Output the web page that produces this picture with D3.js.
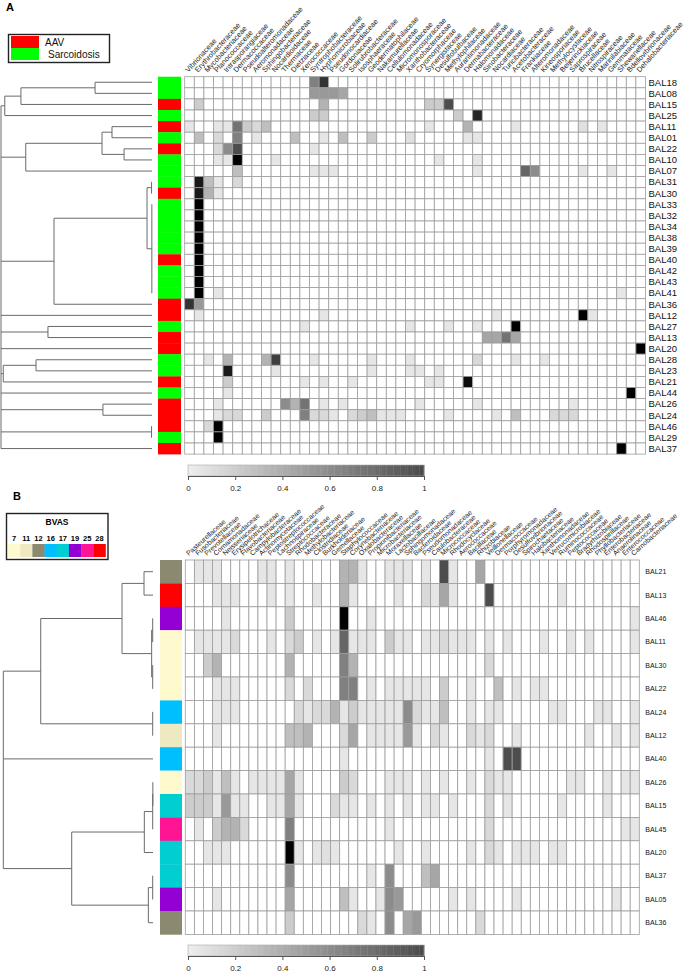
<!DOCTYPE html>
<html>
<head>
<meta charset="utf-8">
<script src="https://cdn.jsdelivr.net/npm/d3@7"></script>
<style>
body{margin:0;background:#fff;}
text{font-family:"Liberation Sans",Arial,sans-serif;}
</style>
</head>
<body>
<div id="plot"></div>
<script>
// ---------- panel A data ----------
var rowsA = ["BAL18","BAL08","BAL15","BAL25","BAL11","BAL01","BAL22","BAL10","BAL07","BAL31","BAL30","BAL33","BAL32","BAL34","BAL38","BAL39","BAL40","BAL42","BAL43","BAL41","BAL36","BAL12","BAL27","BAL13","BAL20","BAL28","BAL23","BAL21","BAL44","BAL26","BAL24","BAL46","BAL29","BAL37"];
var groupA = ["S","S","A","S","A","S","A","S","S","S","A","S","S","S","S","S","A","S","S","S","A","A","S","A","A","S","S","A","S","A","A","A","S","A"];
var legendA = ["AAV","Sarcoidosis"];
var legendKeysA = ["A","S"];
var legendColorsA = ["#FF0000","#00FF00"];
var colsA = ["Vibrionaceae","Erythrobacteraceae","Mycobacteriaceae","Planococcaceae","Intrasporangiaceae","Dermacoccaceae","Pseudoalteromonadaceae","Aeromonadaceae","Sphingobacteriaceae","Nocardioidaceae","Thermaceae","Dietziaceae","Xenococcaceae","Syntrophobacteraceae","Hyphomicrobiaceae","Pseudonocardiaceae","Gordoniaceae","Solirubrobacteraceae","Isosphaeraceae","Geodermatophilaceae","Nakamurellaceae","Cellulomonadaceae","Micromonosporaceae","Xanthobacteraceae","Cryomorphaceae","Synergistaceae","Desulfobulbaceae","Methylophilaceae","Aurantimonadaceae","Dermabacteraceae","Halomonadaceae","Sinobacteraceae","Nocardiaceae","Turicibacteraceae","Acetobacteraceae","Frankiaceae","Alteromonadaceae","Kineosporiaceae","Methylocystaceae","Beijerinckiaceae","Saprospiraceae","Brucellaceae","Nitrospiraceae","Marinilabiaceae","Gemmataceae","Shewanellaceae","Bdellovibrionaceae","Dehalobacteriaceae"];
// non-zero cells per row: [column index, value]
var cellsA = [
  [[13,.5],[14,.8]],
  [[13,.4],[14,.4],[15,.4],[16,.35]],
  [[1,.2],[14,.3],[25,.2],[26,.2],[27,.7]],
  [[13,.2],[14,.2],[28,.2],[30,.85]],
  [[0,.1],[3,.1],[4,.1],[5,.55],[6,.2],[7,.15],[8,.25],[25,.1],[29,.3],[34,.1],[41,.12],[43,.1]],
  [[1,.25],[3,.15],[5,.5],[7,.1],[11,.25],[14,.1],[16,.25],[19,.2],[23,.12],[29,.1],[30,.1]],
  [[3,.15],[4,.45],[5,.7],[13,.1]],
  [[3,.1],[4,.1],[5,1],[9,.1],[26,.1],[30,.1]],
  [[5,.25],[13,.1],[14,.1],[15,.1],[30,.1],[35,.6],[36,.45],[41,.1],[44,.1]],
  [[1,.9],[2,.25],[3,.1],[5,.15]],
  [[1,.9],[2,.3],[3,.1]],
  [[1,1]],
  [[1,1]],
  [[1,1]],
  [[1,1]],
  [[1,1]],
  [[1,1]],
  [[1,1]],
  [[1,1]],
  [[1,1],[3,.1],[45,.1]],
  [[0,.8],[1,.4]],
  [[1,.1],[14,.1],[32,.1],[41,1],[42,.1]],
  [[12,.1],[23,.1],[27,.1],[30,.1],[34,1]],
  [[31,.35],[32,.35],[33,.55],[34,.35]],
  [[47,1]],
  [[2,.1],[4,.3],[8,.3],[9,.75],[13,.1],[19,.1],[23,.1],[30,.15],[34,.1],[37,.1]],
  [[4,.9],[9,.1],[19,.1],[23,.1],[24,.1],[26,.1]],
  [[4,.2],[12,.1],[14,.1],[17,.1],[25,.1],[26,.1],[29,.95]],
  [[4,.1],[46,1]],
  [[3,.1],[10,.45],[11,.3],[12,.55],[14,.1],[16,.1],[24,.1],[30,.1],[40,.1]],
  [[3,.1],[4,.15],[5,.15],[8,.2],[12,.5],[13,.15],[14,.15],[15,.1],[17,.15],[18,.2],[19,.25],[20,.1],[21,.1],[22,.1],[27,.1],[32,.1],[34,.25],[38,.15],[39,.15],[40,.15]],
  [[2,.15],[3,1]],
  [[3,1]],
  [[45,1]]
];
// dendrogram: [height, children...], leaves are row names
var treeA = [1.0,
  [0.975, [0.868, [0.377,"BAL18","BAL08"], "BAL15"], "BAL25"],
  [0.836, [0.331, [0.265,"BAL11","BAL01"], [0.185,"BAL22","BAL10"]], "BAL07"],
  [0.649, [0.033, [0.003,"BAL31","BAL30"], [0.001,"BAL33","BAL32","BAL34","BAL38","BAL39","BAL40","BAL42","BAL43","BAL41"]], "BAL36"],
  "BAL12",
  [0.689,"BAL27","BAL13"],
  "BAL20",
  [0.985, [0.768,"BAL28","BAL23"], "BAL21"],
  "BAL44",
  [0.325,"BAL26","BAL24"],
  [0.003,"BAL46","BAL29"],
  "BAL37"];

// ---------- panel B data ----------
var rowsB = ["BAL21","BAL13","BAL46","BAL11","BAL30","BAL22","BAL24","BAL12","BAL40","BAL26","BAL15","BAL45","BAL20","BAL37","BAL05","BAL36"];
var bvasB = [12,28,19,7,7,7,16,11,16,7,17,25,17,17,19,12];
var bvasLevels = [7,11,12,16,17,19,25,28];
var bvasColors = ["#FFFACD","#EEE9BF","#8B8970","#00BFFF","#00CED1","#9400D3","#FF1493","#FF0000"];
var colsB = ["Pasteurellaceae","Fusobacteriaceae","Prevotellaceae","Comamonadaceae","Neisseriaceae","Erysipelotrichaceae","Flavobacteriaceae","Campylobacteraceae","Actinomycetaceae","Peptostreptococcaceae","Lachnospiraceae","Streptococcaceae","Rhodobacteraceae","Methylobacteriaceae","Clostridiaceae","Burkholderiaceae","Gemellaceae","Staphylococcaceae","Corynebacteriaceae","Oxalobacteraceae","Propionibacteriaceae","Microbacteriaceae","Moraxellaceae","Lactobacillaceae","Sphingomonadaceae","Bacteroidaceae","Pseudomonadaceae","Caulobacteraceae","Micrococcaceae","Rhodocyclaceae","Aerococcaceae","Bacillaceae","Rhizobiaceae","Veillonellaceae","Dermacoccaceae","Porphyromonadaceae","Desulfovibrionaceae","Spirochaetaceae","Halobacteriaceae","Xanthomonadaceae","Verrucomicrobiaceae","Ruminococcaceae","Peptococcaceae","Bradyrhizobiaceae","Rhodospirillaceae","Phyllobacteriaceae","Enterobacteriaceae","Anaerolinaceae","Enterococcaceae","Carnobacteriaceae"];
var cellsB = [
  [[1,.1],[2,.1],[3,.1],[8,.1],[9,.1],[11,.1],[17,.3],[18,.3],[19,.1],[22,.1],[23,.1],[24,.1],[26,.1],[28,.7],[29,.1],[32,.35]],
  [[3,.1],[4,.1],[5,.1],[9,.1],[11,.1],[14,.1],[17,.3],[18,.1],[23,.1],[26,.15],[27,.1],[28,.35],[29,.1],[33,.7],[41,.1]],
  [[4,.1],[11,.2],[17,1],[20,.1],[49,.1]],
  [[1,.1],[2,.1],[3,.1],[4,.1],[5,.15],[9,.1],[11,.15],[12,.2],[14,.1],[16,.1],[17,.6],[18,.1],[19,.1],[20,.1],[22,.2],[23,.1],[24,.1],[26,.1],[27,.1],[28,.15],[29,.1],[30,.1],[31,.1],[33,.1],[35,.1],[39,.1],[42,.1],[44,.1],[49,.1]],
  [[2,.2],[3,.3],[11,.3],[17,.5],[18,.3],[33,.15]],
  [[3,.1],[4,.1],[5,.1],[11,.15],[13,.15],[17,.5],[18,.5],[20,.1],[22,.1],[23,.1],[24,.1],[25,.1],[26,.1],[28,.2],[31,.1],[34,.25],[36,.1],[38,.1],[39,.1]],
  [[3,.1],[4,.1],[5,.1],[12,.15],[13,.1],[14,.15],[15,.15],[16,.3],[17,.1],[18,.2],[19,.1],[20,.1],[21,.1],[22,.1],[23,.1],[24,.45],[25,.15],[26,.1],[27,.1],[28,.25],[31,.1],[33,.1],[34,.1],[40,.1],[41,.1],[45,.1],[46,.1],[49,.1]],
  [[3,.1],[11,.25],[12,.25],[13,.3],[17,.15],[18,.35],[20,.1],[21,.1],[22,.1],[23,.1],[24,.4],[25,.1],[27,.15],[28,.1],[31,.15],[32,.1],[33,.15],[36,.1],[44,.1],[47,.1],[49,.1]],
  [[17,.1],[33,.1],[35,.7],[36,.7]],
  [[0,.15],[1,.15],[2,.2],[3,.1],[4,.25],[5,.1],[7,.1],[8,.1],[9,.1],[10,.1],[11,.35],[12,.1],[17,.2],[18,.15],[22,.1],[23,.1],[24,.1],[26,.1],[28,.1],[31,.1],[33,.15],[34,.1],[35,.1],[42,.1],[43,.1],[46,.1],[48,.1],[49,.1]],
  [[0,.2],[1,.2],[2,.2],[3,.1],[4,.4],[5,.1],[6,.1],[9,.1],[10,.1],[11,.35],[12,.1],[16,.15],[17,.1],[18,.1],[20,.1],[22,.1],[24,.1],[26,.1],[27,.1],[29,.1],[33,.15],[35,.1],[41,.1],[46,.1]],
  [[1,.1],[3,.2],[4,.3],[5,.3],[6,.15],[11,.5],[22,.1],[33,.15],[48,.1],[49,.1]],
  [[2,.1],[3,.1],[4,.1],[11,1],[12,.1],[14,.1],[15,.12],[16,.1],[23,.1],[26,.1],[31,.1],[33,.15],[34,.1],[36,.1],[37,.1],[38,.1],[40,.1],[41,.1]],
  [[11,.45],[20,.1],[22,.45],[26,.25],[27,.35]],
  [[3,.1],[11,.35],[17,.25],[18,.1],[21,.1],[22,.45],[23,.4],[29,.1],[31,.1],[36,.1],[47,.1]],
  [[11,.2],[19,.15],[20,.1],[22,.45],[24,.35],[25,.4],[32,.15]]
];
var treeB = [1.0,
  [0.75, [0.207, [0.06,"BAL21","BAL13"], [0.009, [0.002,"BAL46","BAL11"], [0.002,"BAL30","BAL22"]]], [0.002,"BAL24","BAL12"]],
  "BAL40",
  [0.543, [0.058, [0.002, [0.001,"BAL26","BAL15"], "BAL45"], "BAL20"], [0.031, [0.002,"BAL37","BAL05"], "BAL36"]]];

var keyTicks = [0,0.2,0.4,0.6,0.8,1];

// ---------- drawing ----------
var svg = d3.select('#plot').append('svg')
    .attr('width',685)
    .attr('height',974);

var shade = d3.scaleLinear().domain([0,1]).range(['#ffffff','#000000']);

function drawHeatmap(p){
  var x = d3.scaleBand().domain(d3.range(p.cols.length)).range([p.x0,p.x1]);
  var y = d3.scaleBand().domain(p.rows).range([p.y0,p.y1]);
  var g = svg.append('g');

  var grid = [];
  p.rows.forEach(function(r){
    p.cols.forEach(function(c,j){ grid.push({r:r,c:j,v:0}); });
  });
  p.cells.forEach(function(list,i){
    list.forEach(function(d){ grid[i*p.cols.length+d[0]].v = d[1]; });
  });

  g.selectAll('rect.cell').data(grid).enter().append('rect')
    .attr('class','cell')
    .attr('x',function(d){return x(d.c);})
    .attr('y',function(d){return y(d.r);})
    .attr('width',x.bandwidth())
    .attr('height',y.bandwidth())
    .attr('fill',function(d){return shade(d.v);})
    .attr('stroke','#9d9d9d')
    .attr('stroke-width',0.8);

  // side colour bar
  g.selectAll('rect.side').data(p.rows).enter().append('rect')
    .attr('class','side')
    .attr('x',p.sx0)
    .attr('width',p.sx1-p.sx0)
    .attr('y',function(d){return y(d);})
    .attr('height',y.bandwidth()+0.3)
    .attr('fill',function(d,i){return p.sideColor(i);});

  // row labels
  g.selectAll('text.row').data(p.rows).enter().append('text')
    .attr('class','row')
    .attr('x',p.x1+p.rowPad)
    .attr('y',function(d){return y(d)+y.bandwidth()/2;})
    .attr('dy','0.35em')
    .style('font-size',p.rowFont)
    .style('fill','#111')
    .text(function(d){return d;});

  // column labels
  g.selectAll('text.col').data(p.cols).enter().append('text')
    .attr('class','col')
    .attr('transform',function(d,j){
      return 'translate('+(x(j)+x.bandwidth()/2-1)+','+(p.y0-4)+') rotate('+p.angle+')';
    })
    .style('font-size',p.colFont)
    .style('fill','#222')
    .text(function(d){return d;});

  drawTree(p.tree,y,d3.scaleLinear().domain([0,1]).range([p.leafX,p.rootX]));
}

function drawTree(tree,y,xs){
  var root = d3.hierarchy(tree,function(d){return Array.isArray(d) ? d.slice(1) : null;});
  root.eachAfter(function(n){
    if(!n.children){
      n.px = xs(0);
      n.py = y(n.data)+y.bandwidth()/2;
    } else {
      n.px = xs(n.data[0]);
      n.py = (n.children[0].py+n.children[n.children.length-1].py)/2;
    }
  });
  var segs = [];
  root.each(function(n){
    if(n.children){
      segs.push([n.px,n.children[0].py,n.px,n.children[n.children.length-1].py]);
      n.children.forEach(function(c){ segs.push([n.px,c.py,c.px,c.py]); });
    }
  });
  svg.append('g').selectAll('line').data(segs).enter().append('line')
    .attr('x1',function(d){return d[0];})
    .attr('y1',function(d){return d[1];})
    .attr('x2',function(d){return d[2];})
    .attr('y2',function(d){return d[3];})
    .attr('stroke','#6a6a6a')
    .attr('stroke-width',1);
}

function drawKey(y0){
  var kx = d3.scaleLinear().domain([0,1]).range([188,424]);
  var keyShade = d3.scaleLinear().domain([0,1]).range(['#eeeeee','#4b4b4b']);
  var g = svg.append('g');
  var steps = d3.range(0,1,0.01);
  g.selectAll('rect.step').data(steps).enter().append('rect')
    .attr('x',function(d){return kx(d);})
    .attr('y',y0)
    .attr('width',kx(0.01)-kx(0)+0.4)
    .attr('height',11)
    .attr('fill',function(d){return keyShade(d+0.005);});
  g.append('rect')
    .attr('x',kx(0)).attr('y',y0)
    .attr('width',kx(1)-kx(0)).attr('height',11)
    .attr('fill','none').attr('stroke','#aaaaaa').attr('stroke-width',0.6);
  var ax = g.append('g')
    .attr('transform','translate(0,'+(y0+11)+')')
    .call(d3.axisBottom(kx).tickValues(keyTicks).tickSize(4).tickPadding(5).tickFormat(d3.format('')));
  ax.selectAll('path,line').attr('stroke','#555');
  ax.selectAll('text').style('font-size','8px').style('fill','#222')
    .style('font-family','"Liberation Sans",Arial,sans-serif');
}

// panel letters
svg.append('text').attr('x',6).attr('y',11).style('font-size','11px').style('font-weight','bold').text('A');
svg.append('text').attr('x',13).attr('y',500).style('font-size','11px').style('font-weight','bold').text('B');

// panel A
var colorA = d3.scaleOrdinal().domain(legendKeysA).range(legendColorsA);
drawHeatmap({
  rows:rowsA, cols:colsA, cells:cellsA, tree:treeA,
  x0:184.7, x1:645.5, y0:76.7, y1:454.1,
  sx0:158, sx1:181,
  sideColor:function(i){return colorA(groupA[i]);},
  rowPad:3, rowFont:'9.5px', colFont:'7.3px', angle:-48,
  leafX:152, rootX:1
});
drawKey(465);

// legend A
var legA = svg.append('g');
legA.append('rect').attr('x',8.5).attr('y',34.5).attr('width',101).attr('height',28)
  .attr('fill','#fff').attr('stroke','#222').attr('stroke-width',1.4);
legA.selectAll('rect.sw').data(legendA).enter().append('rect')
  .attr('class','sw')
  .attr('x',11).attr('y',function(d,i){return 36+i*12;})
  .attr('width',28).attr('height',12)
  .attr('fill',function(d,i){return legendColorsA[i];});
legA.selectAll('text').data(legendA).enter().append('text')
  .attr('x',function(d,i){return 45+i*3;})
  .attr('y',function(d,i){return 42+i*12;})
  .attr('dy','0.35em')
  .style('font-size','10px').style('fill','#111')
  .text(function(d){return d;});

// panel B
var colorB = d3.scaleOrdinal().domain(bvasLevels).range(bvasColors);
drawHeatmap({
  rows:rowsB, cols:colsB, cells:cellsB, tree:treeB,
  x0:185.3, x1:639.3, y0:560, y1:934.4,
  sx0:160, sx1:182,
  sideColor:function(i){return colorB(bvasB[i]);},
  rowPad:6, rowFont:'7px', colFont:'7px', angle:-42,
  leafX:153, rootX:3.3
});
drawKey(945);

// BVAS legend
var legB = svg.append('g');
legB.append('rect').attr('x',6.5).attr('y',513.5).attr('width',101.5).attr('height',46)
  .attr('fill','#fff').attr('stroke','#222').attr('stroke-width',1.4);
legB.append('text').attr('x',57).attr('y',525).attr('text-anchor','middle')
  .style('font-size','8.5px').style('font-weight','bold').text('BVAS');
var sw = d3.scaleBand().domain(bvasLevels).range([8,105.5]);
legB.selectAll('rect.sw').data(bvasLevels).enter().append('rect')
  .attr('class','sw')
  .attr('x',function(d){return sw(d);})
  .attr('y',544).attr('width',sw.bandwidth()+0.3).attr('height',13)
  .attr('fill',function(d){return colorB(d);});
legB.selectAll('text.lv').data(bvasLevels).enter().append('text')
  .attr('class','lv')
  .attr('x',function(d){return sw(d)+sw.bandwidth()/2;})
  .attr('y',540.5).attr('text-anchor','middle')
  .style('font-size','7.5px').style('font-weight','bold')
  .text(function(d){return d;});
</script>
</body>
</html>
